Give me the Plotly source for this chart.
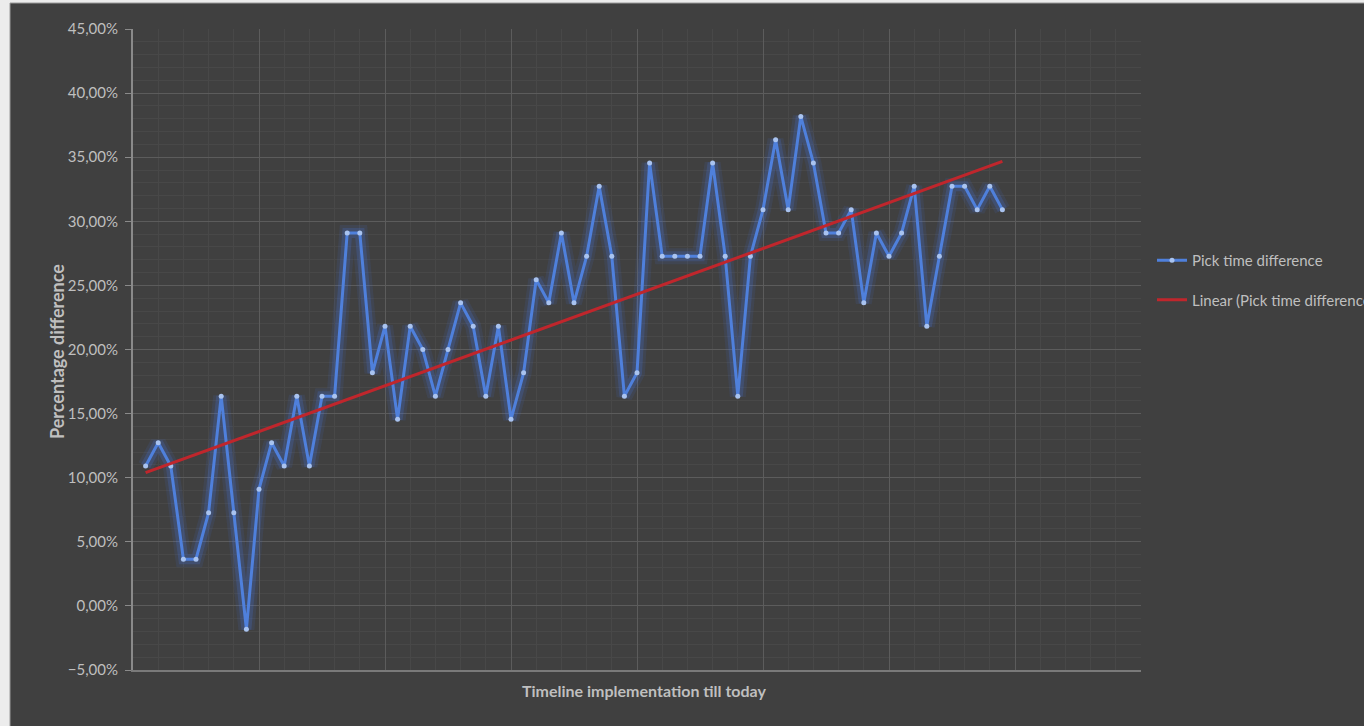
import numpy as np
import plotly.graph_objects as go

# Pick time difference per period (percent), in chronological order
periods = list(range(1, 70))
pick_diff_pct = [
    10.91, 12.73, 10.91, 3.64, 3.64, 7.27, 16.36, 7.27, -1.82, 9.09,
    12.73, 10.91, 16.36, 10.91, 16.36, 16.36, 29.09, 29.09, 18.18, 21.82,
    14.55, 21.82, 20.00, 16.36, 20.00, 23.64, 21.82, 16.36, 21.82, 14.55,
    18.18, 25.45, 23.64, 29.09, 23.64, 27.27, 32.73, 27.27, 16.36, 18.18,
    34.55, 27.27, 27.27, 27.27, 27.27, 34.55, 27.27, 16.36, 27.27, 30.91,
    36.36, 30.91, 38.18, 34.55, 29.09, 29.09, 30.91, 23.64, 29.09, 27.27,
    29.09, 32.73, 21.82, 27.27, 32.73, 32.73, 30.91, 32.73, 30.91,
]
y_ticks = [-0.05, 0.0, 0.05, 0.10, 0.15, 0.20, 0.25, 0.30, 0.35, 0.40, 0.45]

x = np.array(periods, dtype=float)
y = np.array(pick_diff_pct) / 100.0

# Least-squares linear trend over the series
slope, intercept = np.polyfit(x, y, 1)
trend_x = [x[0], x[-1]]
trend_y = [intercept + slope * x[0], intercept + slope * x[-1]]

FONT = "Lato, 'Open Sans', sans-serif"
TEXT = "#bfbfbf"
BG = "#404040"

# plot area in pixels
L, R, T, B = 133, 1141, 29, 670
W, H = 1364, 726

fig = go.Figure()

# soft glow under the series line
for w, a in [(16, 0.10), (10, 0.20)]:
    fig.add_trace(go.Scatter(
        x=x, y=y, mode="lines", hoverinfo="skip", showlegend=False,
        line=dict(color=f"rgba(70,120,235,{a})", width=w),
    ))

fig.add_trace(go.Scatter(
    x=x, y=y, mode="lines+markers", name="Pick time difference",
    line=dict(color="#4f80dc", width=3),
    marker=dict(color="#a9c3ef", size=5),
    legendgroup="a",
))

fig.add_trace(go.Scatter(
    x=trend_x, y=trend_y, mode="lines",
    name="Linear (Pick time difference)",
    line=dict(color="#c0262c", width=3),
    legendgroup="b",
))

# chart frame
fig.add_shape(
    type="rect", xref="paper", yref="paper", layer="below",
    x0=(10 - L) / (R - L), x1=(W + 20 - L) / (R - L),
    y0=(B - H - 20) / (B - T), y1=(B - 3) / (B - T),
    fillcolor=BG, line=dict(color="#9a9a9a", width=1),
)

fig.add_annotation(
    text="<b>Percentage difference</b>", textangle=-90,
    xref="paper", yref="paper", x=(57 - L) / (R - L), y=(B - 352) / (B - T),
    xanchor="center", yanchor="middle",
    showarrow=False, font=dict(family=FONT, size=18, color=TEXT),
)
fig.add_annotation(
    text="<b>Timeline implementation till today</b>",
    xref="paper", yref="paper", x=(644 - L) / (R - L), y=(B - 690) / (B - T),
    xanchor="center", yanchor="middle",
    showarrow=False, font=dict(family=FONT, size=16, color=TEXT),
)

fig.update_layout(
    width=W, height=H,
    margin=dict(l=L, r=W - R, t=T, b=H - B, autoexpand=False),
    paper_bgcolor="#ececec", plot_bgcolor=BG,
    separators=",.",
    font=dict(family=FONT, size=14, color=TEXT),
    legend=dict(
        x=(1152 - L) / (R - L), y=(B - 244) / (B - T),
        xanchor="left", yanchor="top",
        bgcolor="rgba(0,0,0,0)", font=dict(family=FONT, size=15, color=TEXT),
        tracegroupgap=17, itemwidth=30,
    ),
    showlegend=True,
)

fig.update_xaxes(
    range=[0, 80], tickvals=list(range(0, 81, 10)), showticklabels=False,
    showgrid=True, gridcolor="#5c5c5c", gridwidth=1,
    minor=dict(dtick=2, showgrid=True, gridcolor="#484848", gridwidth=1),
    showline=True, linecolor="#7a7a7a", linewidth=2, mirror=False,
    zeroline=False, ticks="",
)
fig.update_yaxes(
    range=[-0.05, 0.45], tickvals=y_ticks, tickformat=".2%",
    showgrid=True, gridcolor="#5c5c5c", gridwidth=1,
    minor=dict(dtick=0.01, showgrid=True, gridcolor="#484848", gridwidth=1),
    showline=True, linecolor="#8a8a8a", linewidth=2,
    ticks="outside", ticklen=6, tickcolor="#8a8a8a", ticklabelstandoff=4,
    zeroline=False, tickfont=dict(family=FONT, size=15, color=TEXT),
)

fig.write_html("out.html")
